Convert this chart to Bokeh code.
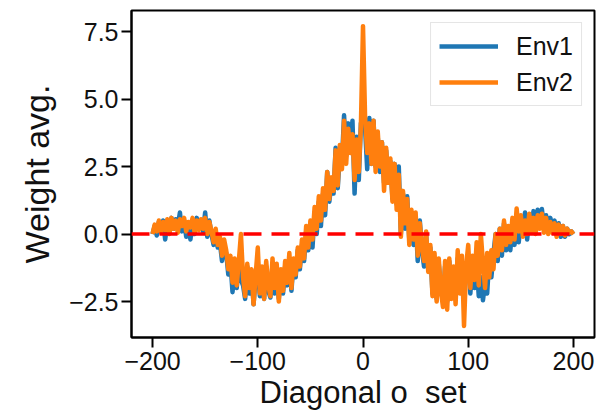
from bokeh.plotting import figure
from bokeh.models import Range1d, Span, Legend, LegendItem, FixedTicker, CustomJSTickFormatter
from bokeh.embed import file_html
from bokeh.resources import INLINE

# ---- data ----
offsets = list(range(-200, 201, 2))

env1 = [0.0, 0.3, -0.05, 0.45, 0.1, 0.5, -0.2, 0.4, 0.05, 0.6,
        0.2, 0.55, 0.3, 0.8, 0.1, 0.5, -0.1, 0.4, -0.2, 0.45,
        0.0, 0.6, 0.2, 0.5, 0.1, 0.8, -0.1, 0.5, 0.0, -0.4,
        0.0, -0.5, -0.3, -1.0, -0.4, -0.7, -1.5, -1.0, -2.15, -1.2,
        -2.0, -1.1, -1.7, -1.9, -2.4, -1.2, -2.2, -1.4, -2.6, -1.6,
        -1.3, -2.3, -1.4, -2.4, -1.2, -2.1, -2.35, -1.1, -2.2, -1.3,
        -2.4, -1.4, -2.2, -1.2, -1.9, -0.9, -2.1, -1.0, -1.6, -0.6,
        -1.3, -0.4, -1.0, 0.1, -0.6, 0.3, -0.5, 0.8, 0.0, 1.2,
        0.3, 1.5, 0.7, 2.3, 1.2, 1.9, 1.5, 3.2, 1.7, 3.0,
        2.7, 4.4, 2.9, 4.1, 3.2, 4.2, 1.5, 3.6, 2.0, 4.1,
        4.3, 3.9, 2.4, 4.3, 2.6, 4.2, 2.5, 3.6, 2.3, 3.4,
        1.9, 3.1, 2.0, 2.7, 1.3, 2.6, 1.1, 2.5, 0.0, 1.5,
        0.2, 1.4, -0.2, 0.7, -0.4, 0.6, -1.0, 0.5, -0.6, -1.2,
        0.0, -1.3, -0.5, -2.2, -1.0, -2.4, -1.1, -2.0, -2.5, -1.2,
        -2.5, -1.0, -2.2, -1.3, -2.4, -0.9, -2.1, -1.1, -2.0, -1.4,
        -1.0, -2.2, -1.2, -2.0, -1.0, -2.3, -1.6, -2.45, -1.8, -2.2,
        -0.9, -1.6, -0.7, 0.0, -1.0, 0.2, -0.8, 0.4, -0.6, 0.1,
        -0.6, 0.3, -0.4, 0.6, -0.3, 0.5, 0.0, 0.8, -0.2, 0.6,
        0.1, 0.85, 0.2, 0.9, 0.3, 0.93, 0.2, 0.7, 0.1, 0.6,
        0.3, 0.5, 0.0, 0.4, -0.1, 0.3, -0.1, 0.2, 0.0, 0.1,
        0.0]

env2 = [0.0, 0.35, 0.1, 0.5, 0.05, 0.45, 0.15, 0.55, 0.0, 0.6,
        0.2, 0.5, 0.05, 0.55, 0.3, 0.6, 0.1, 0.45, 0.25, 0.6,
        0.05, 0.5, 0.15, 0.55, 0.2, 0.6, 0.0, 0.45, 0.1, -0.3,
        0.2, -0.4, -0.1, -0.8, -0.2, -0.6, -1.3, -0.8, -1.8, -0.9,
        -1.9, -1.0, 0.0, -1.6, -2.3, -1.1, -2.0, -1.3, -2.6, -1.5,
        -0.5, -2.2, -1.2, -2.4, -1.0, -1.9, -2.3, -0.9, -2.0, -1.1,
        -2.5, -1.3, -2.1, -1.0, -1.8, -0.7, -2.0, -0.9, -1.5, -0.5,
        -1.2, -0.2, -0.9, 0.3, -0.5, 0.5, -0.2, 1.0, 0.2, 1.4,
        0.5, 1.7, 0.9, 2.3, 1.3, 2.1, 1.6, 3.1, 1.8, 3.3,
        2.4, 4.2, 2.6, 3.9, 3.0, 3.7, 2.0, 3.5, 2.3, 4.0,
        7.7, 4.3, 3.0, 4.1, 2.6, 4.2, 2.3, 3.8, 2.5, 3.4,
        1.6, 3.2, 1.9, 2.8, 1.2, 2.6, 0.9, 2.2, -0.1, 1.6,
        0.4, 1.3, -0.4, 0.9, -0.2, 0.8, -0.8, 0.4, -0.5, -1.0,
        0.1, -1.4, -0.4, -2.3, -0.7, -2.5, -0.9, -2.1, -2.7, -1.0,
        -2.8, -0.9, -2.4, -1.2, -2.6, -0.6, -2.2, -0.8, -3.4, -1.2,
        -0.4, -2.0, -0.8, -1.7, -0.3, -1.9, 0.0, -1.1, -2.0, -0.7,
        -1.6, -0.6, -1.3, 0.0, -0.8, 0.2, -0.6, 0.5, -0.4, 0.3,
        -0.3, 0.6, -0.2, 0.95, 0.1, 0.7, -0.1, 0.5, 0.0, 0.75,
        0.1, 0.6, 0.0, 0.7, 0.2, 0.75, 0.05, 0.6, 0.0, 0.45,
        0.05, 0.4, -0.1, 0.35, 0.0, 0.3, -0.05, 0.2, 0.05, 0.1,
        0.0]

series_names = ["Env1", "Env2"]
series_colors = ["#1f77b4", "#ff7f0e"]

x_ticks = [-200, -100, 0, 100, 200]
x_tick_labels = ["\u2212200", "\u2212100", "0", "100", "200"]
y_ticks = [-2.5, 0.0, 2.5, 5.0, 7.5]
y_tick_labels = ["\u22122.5", "0.0", "2.5", "5.0", "7.5"]

x_label = "Diagonal o\u00a0\u00a0set"
y_label = "Weight avg."

FONT = "Liberation Sans"
TXT = "#111111"

p = figure(width=601, height=418, output_backend="svg", toolbar_location=None,
           x_range=Range1d(-220, 220), y_range=Range1d(-3.83, 8.28),
           min_border_left=131, min_border_right=7, min_border_top=10, min_border_bottom=81)

p.background_fill_color = "white"
p.border_fill_color = "white"
p.outline_line_color = "black"
p.outline_line_width = 2
p.xgrid.visible = False
p.ygrid.visible = False

r1 = p.line(offsets, env1, line_color=series_colors[0], line_width=4.5, line_join="round")
r2 = p.line(offsets, env2, line_color=series_colors[1], line_width=4.5, line_join="round")

zero = Span(location=0, dimension="width", line_color="red", line_width=3.5, line_dash="18 10")
p.add_layout(zero)

fmt_code = """
for (let i = 0; i < tvals.length; i++) {
  if (Math.abs(tvals[i] - tick) < 1e-9) { return tlabs[i]; }
}
return '';
"""
p.xaxis.ticker = FixedTicker(ticks=x_ticks)
p.xaxis.formatter = CustomJSTickFormatter(args=dict(tvals=x_ticks, tlabs=x_tick_labels), code=fmt_code)
p.yaxis.ticker = FixedTicker(ticks=y_ticks)
p.yaxis.formatter = CustomJSTickFormatter(args=dict(tvals=y_ticks, tlabs=y_tick_labels), code=fmt_code)

for ax in (p.xaxis[0], p.yaxis[0]):
    ax.axis_line_color = "black"
    ax.axis_line_width = 2
    ax.major_tick_line_color = "black"
    ax.major_tick_line_width = 2
    ax.major_tick_out = 10
    ax.major_tick_in = 0
    ax.minor_tick_line_color = None
    ax.major_label_text_font = FONT
    ax.major_label_text_font_size = "25px"
    ax.major_label_text_color = TXT
    ax.axis_label_text_font = FONT
    ax.axis_label_text_font_style = "normal"
    ax.axis_label_text_color = TXT

p.xaxis.axis_label = x_label
p.xaxis.axis_label_text_font_size = "31px"
p.xaxis.major_label_standoff = 4
p.xaxis.axis_label_standoff = 2

p.yaxis.axis_label = y_label
p.yaxis.axis_label_text_font_size = "34px"
p.yaxis.major_label_standoff = 3
p.yaxis.axis_label_standoff = 10

legend = Legend(items=[LegendItem(label=series_names[0], renderers=[r1]),
                       LegendItem(label=series_names[1], renderers=[r2])],
                location="top_right")
legend.label_text_font = FONT
legend.label_text_font_size = "25px"
legend.label_text_color = TXT
legend.border_line_color = "#cccccc"
legend.border_line_width = 1.5
legend.background_fill_alpha = 0.8
legend.glyph_width = 59
legend.glyph_height = 30
legend.label_height = 30
legend.label_standoff = 18
legend.padding = 8
legend.spacing = 6
legend.margin = 12
p.add_layout(legend)

open("out.html", "w").write(file_html(p, INLINE))
